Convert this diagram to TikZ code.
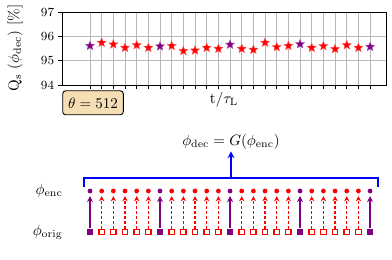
\documentclass[tikz,border=0pt]{standalone}
\usepackage{fix-cm}
\usetikzlibrary{shapes.geometric,arrows.meta}
\definecolor{mpurple}{HTML}{800080}
\definecolor{boxfill}{HTML}{F5DEB3}
\definecolor{gridgray}{HTML}{B8B8B8}
\begin{document}
\begin{tikzpicture}[x=0.6667pt,y=-0.6667pt,
  ticklab/.style={font=\fontsize{8.3}{10}\selectfont, inner sep=0pt},
  gridline/.style={gridgray, line width=0.55pt},
  starmark/.style={star, star points=5, star point ratio=2.3, minimum size=6.2pt, inner sep=0pt, draw=#1!70!white, line width=0.3pt, fill=#1},
  encdot/.style={circle, inner sep=0pt, minimum size=3.2pt, fill=#1},
  origsq/.style={rectangle, inner sep=0pt, minimum size=3.6pt, draw=#1, line width=0.8pt, fill=white},
  origsqf/.style={rectangle, inner sep=0pt, minimum size=4.4pt, fill=#1},
  solidarr/.style={-{Stealth[length=4pt,width=4pt]}, mpurple, line width=0.9pt, shorten >=1.6pt},
  dasharr/.style={-{Stealth[length=3.5pt,width=3.5pt]}, red, line width=0.9pt, dash pattern=on 2pt off 1.3pt, shorten >=1.6pt},
  bracketline/.style={blue, line width=1pt}
]
\useasboundingbox (0,0) rectangle (392,260);
% grid
\foreach \k in {0,...,24}{
  \pgfmathsetmacro\xx{90+11.67*\k}
  \draw[gridline] (\xx,12) -- (\xx,85);
  \draw[line width=0.5pt] (\xx,85) -- (\xx,89);
}
\draw[gridline] (62,60.7) -- (386,60.7);
\draw[gridline] (62,36.3) -- (386,36.3);
\draw[line width=0.6pt] (62,12) rectangle (386,85);
\foreach \v/\yy in {97/12,96/36.3,95/60.7,94/85}{
  \draw[line width=0.5pt] (58,\yy) -- (62,\yy);
  \node[ticklab, anchor=east] (yt\v) at (54.5,\yy) {\v};
}
% stars
\foreach \v [count=\k from 0] in {95.61,95.74,95.67,95.53,95.64,95.53,95.59,95.61,95.40,95.42,95.53,95.49,95.66,95.49,95.45,95.74,95.56,95.61,95.68,95.53,95.60,95.48,95.64,95.53,95.57}{
  \pgfmathsetmacro\xx{90+11.67*\k}
  \pgfmathsetmacro\yy{12+(97-\v)*24.33}
  \pgfmathtruncatemacro\m{mod(\k,6)}
  \ifnum\m=0
    \node[starmark=mpurple] (s\k) at (\xx,\yy) {};
  \else
    \node[starmark=red] (s\k) at (\xx,\yy) {};
  \fi
}
\node[rotate=90, font=\fontsize{10}{12}\selectfont] (ylab) at (15,48) {Q$_\mathrm{s}$ $\left(\phi_\mathrm{dec}\right)$ [\%]};
\node[font=\fontsize{10}{12}\selectfont] (xlab) at (224,100) {$\mathrm{t}/\tau_\mathrm{L}$};
\node[draw=black, fill=boxfill, rounded corners=2pt, line width=0.6pt, minimum width=40.4pt, minimum height=16pt, inner sep=1pt] (theta) at (93,102.8) {$\theta=512$};
% bottom
\node[inner sep=1pt] (form) at (231,142) {$\phi_\mathrm{dec}=G(\phi_\mathrm{enc})$};
\node[anchor=east, inner sep=0pt] (lenc) at (63,191) {$\phi_\mathrm{enc}$};
\node[anchor=east, inner sep=0pt] (lorig) at (63,232) {$\phi_\mathrm{orig}$};
\foreach \k in {0,...,24}{
  \pgfmathsetmacro\xx{90+11.67*\k}
  \pgfmathtruncatemacro\m{mod(\k,6)}
  \ifnum\m=0
    \node[encdot=mpurple] (e\k) at (\xx,191) {};
    \node[origsqf=mpurple] (o\k) at (\xx,232) {};
    \draw[solidarr] (o\k) -- (e\k);
  \else
    \node[encdot=red] (e\k) at (\xx,191) {};
    \node[origsq=red] (o\k) at (\xx,232) {};
    \draw[dasharr] (o\k) -- (e\k);
  \fi
}
\coordinate (bl) at (84,187);
\coordinate (br) at (378,187);
\coordinate (bm) at (231,178);
\draw[bracketline] (bl) -- (84,178) -- (378,178) -- (br);
\draw[blue, line width=1pt, -{Stealth[length=4.5pt,width=4.5pt]}] ([yshift=-1pt]bm) -- (form.south);
\end{tikzpicture}
\end{document}
